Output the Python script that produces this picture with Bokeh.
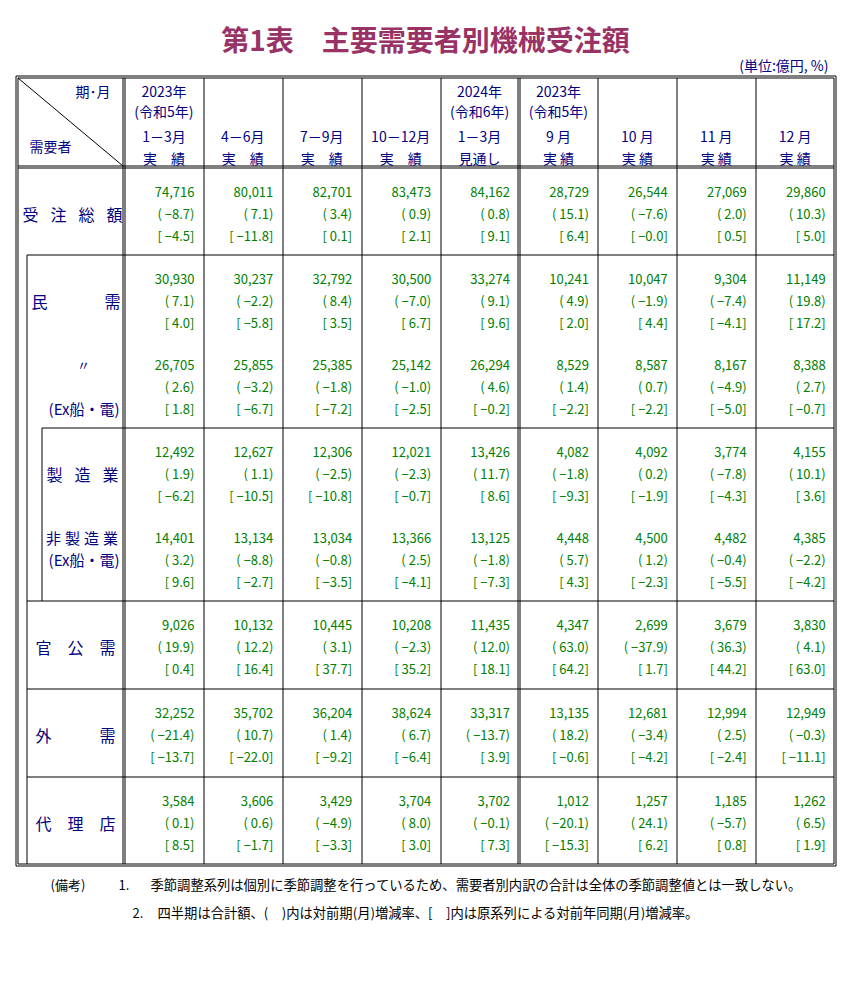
from bokeh.plotting import figure
from bokeh.models import Range1d, ColumnDataSource
from bokeh.embed import file_html
from bokeh.resources import INLINE
from bokeh.core.properties import value

FONT = "Noto Sans CJK JP"
NAVY = "#000080"
GREEN = "#008000"
TITLE_C = "#993366"

# ---------------- data ----------------
title_text = "第1表　主要需要者別機械受注額"
unit_text = "(単位:億円, %)"

year_line1 = ["2023年", "", "", "", "2024年", "2023年", "", "", ""]
year_line2 = ["(令和5年)", "", "", "", "(令和6年)", "(令和5年)", "", "", ""]
periods = ["1－3月", "4－6月", "7－9月", "10－12月", "1－3月", "9 月", "10 月", "11 月", "12 月"]
status = ["実　績", "実　績", "実　績", "実　績", "見通し", "実 績", "実 績", "実 績", "実 績"]

corner_top = "期･月"
corner_bottom = "需要者"

total_amt = [74716, 80011, 82701, 83473, 84162, 28729, 26544, 27069, 29860]
total_mom = [-8.7, 7.1, 3.4, 0.9, 0.8, 15.1, -7.6, 2.0, 10.3]
total_yoy = [-4.5, -11.8, 0.1, 2.1, 9.1, 6.4, -0.0, 0.5, 5.0]

private_amt = [30930, 30237, 32792, 30500, 33274, 10241, 10047, 9304, 11149]
private_mom = [7.1, -2.2, 8.4, -7.0, 9.1, 4.9, -1.9, -7.4, 19.8]
private_yoy = [4.0, -5.8, 3.5, 6.7, 9.6, 2.0, 4.4, -4.1, 17.2]

privex_amt = [26705, 25855, 25385, 25142, 26294, 8529, 8587, 8167, 8388]
privex_mom = [2.6, -3.2, -1.8, -1.0, 4.6, 1.4, 0.7, -4.9, 2.7]
privex_yoy = [1.8, -6.7, -7.2, -2.5, -0.2, -2.2, -2.2, -5.0, -0.7]

mfg_amt = [12492, 12627, 12306, 12021, 13426, 4082, 4092, 3774, 4155]
mfg_mom = [1.9, 1.1, -2.5, -2.3, 11.7, -1.8, 0.2, -7.8, 10.1]
mfg_yoy = [-6.2, -10.5, -10.8, -0.7, 8.6, -9.3, -1.9, -4.3, 3.6]

nonmfg_amt = [14401, 13134, 13034, 13366, 13125, 4448, 4500, 4482, 4385]
nonmfg_mom = [3.2, -8.8, -0.8, 2.5, -1.8, 5.7, 1.2, -0.4, -2.2]
nonmfg_yoy = [9.6, -2.7, -3.5, -4.1, -7.3, 4.3, -2.3, -5.5, -4.2]

public_amt = [9026, 10132, 10445, 10208, 11435, 4347, 2699, 3679, 3830]
public_mom = [19.9, 12.2, 3.1, -2.3, 12.0, 63.0, -37.9, 36.3, 4.1]
public_yoy = [0.4, 16.4, 37.7, 35.2, 18.1, 64.2, 1.7, 44.2, 63.0]

foreign_amt = [32252, 35702, 36204, 38624, 33317, 13135, 12681, 12994, 12949]
foreign_mom = [-21.4, 10.7, 1.4, 6.7, -13.7, 18.2, -3.4, 2.5, -0.3]
foreign_yoy = [-13.7, -22.0, -9.2, -6.4, 3.9, -0.6, -4.2, -2.4, -11.1]

agency_amt = [3584, 3606, 3429, 3704, 3702, 1012, 1257, 1185, 1262]
agency_mom = [0.1, 0.6, -4.9, 8.0, -0.1, -20.1, 24.1, -5.7, 6.5]
agency_yoy = [8.5, -1.7, -3.3, 3.0, 7.3, -15.3, 6.2, 0.8, 1.9]

rows_amt = [total_amt, private_amt, privex_amt, mfg_amt, nonmfg_amt, public_amt, foreign_amt, agency_amt]
rows_mom = [total_mom, private_mom, privex_mom, mfg_mom, nonmfg_mom, public_mom, foreign_mom, agency_mom]
rows_yoy = [total_yoy, private_yoy, privex_yoy, mfg_yoy, nonmfg_yoy, public_yoy, foreign_yoy, agency_yoy]

label_total = "受注総額"
label_private = "民需"
label_ditto = "〃"
label_ex = "(Ex船・電)"
label_mfg = "製造業"
label_nonmfg = "非製造業"
label_public = "官公需"
label_foreign = "外需"
label_agency = "代理店"

note_head = "(備考)"
note_nums = ["1.", "2."]
note_texts = [
    "季節調整系列は個別に季節調整を行っているため、需要者別内訳の合計は全体の季節調整値とは一致しない。",
    "四半期は合計額、(　)内は対前期(月)増減率、[　]内は原系列による対前年同期(月)増減率。",
]

# ---------------- layout ----------------
W, H = 840, 980
p = figure(width=W, height=H, output_backend="svg", toolbar_location=None,
           x_range=Range1d(0, W), y_range=Range1d(H, 0),
           x_axis_location=None, y_axis_location=None, min_border=0)
p.grid.visible = False
p.outline_line_color = None
p.background_fill_color = "white"

X0 = 124.0
COLW = 78.9
col_edges = [X0 + i * COLW for i in range(10)]
col_centers = [(col_edges[i] + col_edges[i + 1]) / 2 for i in range(9)]
col_rights = [col_edges[i + 1] - 9 for i in range(9)]
row_tops = [167, 254, 340, 427, 513, 600, 688, 776, 864]
row_mid = [t + 46 for t in row_tops[:-1]]
LS = 22


def add_text(xs, ys, texts, size, color, align="left", bold=False, baseline="middle"):
    src = ColumnDataSource(dict(x=xs, y=ys, t=texts))
    p.text("x", "y", "t", source=src, text_font=value(FONT),
           text_font_size=f"{size}px", text_color=color, text_align=align,
           text_baseline=baseline, text_font_style="bold" if bold else "normal")


def spread(text, x0, x1, y):
    n = len(text)
    xs = [x0 + (x1 - x0) * i / (n - 1) for i in range(n)]
    return xs, [y] * n, list(text)


def pct(v):
    return f"{v:.1f}".replace("-", "−")


# ---- lines ----
sx0, sy0, sx1, sy1 = [], [], [], []


def seg(a, b, c, d):
    sx0.append(a); sy0.append(b); sx1.append(c); sy1.append(d)


L_out, L_in = 15.5, 17.5
R_in, R_out = 833.5, 835.5
T_out, T_in = 75.5, 77.5
B_in, B_out = 863.5, 865.5
for xx in (L_out, R_out):
    seg(xx, T_out, xx, B_out)
for yy in (T_out, B_out):
    seg(L_out, yy, R_out, yy)
for xx in (L_in, R_in):
    seg(xx, T_in, xx, B_in)
for yy in (T_in, B_in):
    seg(L_in, yy, R_in, yy)
# header bottom double
seg(L_in, 165.5, R_in, 165.5)
seg(L_in, 167.5, R_in, 167.5)
# label column right double
seg(122.5, T_in, 122.5, B_in)
seg(124.5, T_in, 124.5, B_in)
# column separators
for i in range(1, 9):
    xx = int(round(col_edges[i])) + 0.5
    if i == 5:
        seg(xx - 1, T_in, xx - 1, B_in)
        seg(xx + 1, T_in, xx + 1, B_in)
    else:
        seg(xx, T_in, xx, B_in)
# horizontal row separators
seg(26.5, row_tops[1] + 0.5, R_in, row_tops[1] + 0.5)
seg(41.5, row_tops[3] + 0.5, R_in, row_tops[3] + 0.5)
for k in (5, 6, 7):
    seg(26.5, row_tops[k] + 0.5, R_in, row_tops[k] + 0.5)
# nested label column lines
seg(26.5, row_tops[1] + 0.5, 26.5, B_in)
seg(41.5, row_tops[3] + 0.5, 41.5, row_tops[5] + 0.5)
# corner diagonal
seg(L_in, T_in, 122.5, 165.5)

p.segment(x0=sx0, y0=sy0, x1=sx1, y1=sy1, line_color="black", line_width=1)

# ---- title / unit ----
add_text([425], [38], [title_text], 28, TITLE_C, align="center", bold=True)
add_text([828], [64], [unit_text], 14, NAVY, align="right")

# ---- header ----
add_text([110], [90], [corner_top], 14, NAVY, align="right")
add_text([29], [145], [corner_bottom], 14, NAVY, align="left")
add_text(col_centers, [90] * 9, year_line1, 14, NAVY, align="center")
add_text(col_centers, [110] * 9, year_line2, 14, NAVY, align="center")
add_text(col_centers, [135] * 9, periods, 14, NAVY, align="center")
add_text(col_centers, [157] * 9, status, 14, NAVY, align="center")

# ---- data cells ----
xs, ys, ts = [], [], []
for r in range(8):
    for c in range(9):
        xs += [col_rights[c]] * 3
        ys += [row_mid[r] - LS, row_mid[r], row_mid[r] + LS]
        ts += [f"{rows_amt[r][c]:,}", f"( {pct(rows_mom[r][c])})", f"[ {pct(rows_yoy[r][c])}]"]
add_text(xs, ys, ts, 13, GREEN, align="right")

# ---- row labels ----
lx, ly, lt = [], [], []
for text, a, b, r in ((label_total, 30, 114, 0), (label_private, 39, 112, 1),
                      (label_mfg, 54, 110, 3), (label_public, 43, 107, 5),
                      (label_foreign, 43, 107, 6), (label_agency, 43, 107, 7)):
    x_, y_, t_ = spread(text, a, b, row_mid[r])
    lx += x_; ly += y_; lt += t_
add_text(lx, ly, lt, 16, NAVY, align="center")
x_, y_, t_ = spread(label_nonmfg, 53, 110, row_mid[4] - LS)
add_text(x_, y_, t_, 15, NAVY, align="center")
add_text([83], [row_mid[2] - LS], [label_ditto], 13, NAVY, align="center")
add_text([119, 119], [row_mid[2] + LS, row_mid[4]], [label_ex, label_ex], 15, NAVY, align="right")

# ---- notes ----
add_text([50], [884], [note_head], 13, "black")
add_text([118, 132], [884, 912], note_nums, 13, "black")
add_text([150, 157], [884, 912], note_texts, 13.3, "black")

open("out.html", "w").write(file_html(p, INLINE))
